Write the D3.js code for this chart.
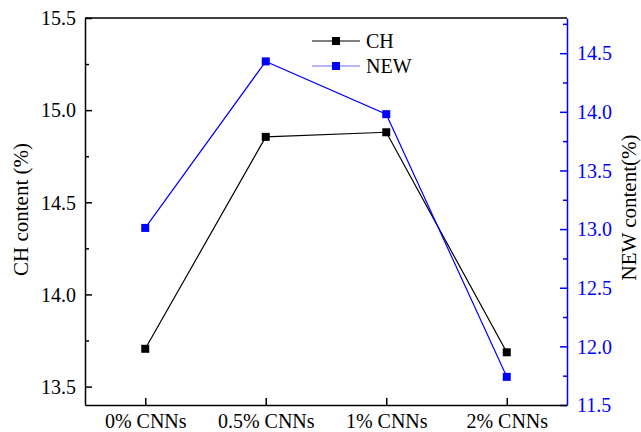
<!DOCTYPE html>
<html><head><meta charset="utf-8">
<script src="https://cdn.jsdelivr.net/npm/d3@7"></script>
<style>body{margin:0;background:#fff}svg{display:block}text{font-family:"Liberation Serif","Times New Roman",serif}</style>
</head><body>
<svg id="c" width="641" height="432"></svg>
<script>
const categories = ["0% CNNs", "0.5% CNNs", "1% CNNs", "2% CNNs"];
const chValues = [13.705, 14.855, 14.88, 13.686];
const newValues = [13.01, 14.43, 13.98, 11.74];
const leftTicks = [13.5, 14.0, 14.5, 15.0, 15.5];
const rightTicks = [11.5, 12.0, 12.5, 13.0, 13.5, 14.0, 14.5];
const leftMinor = [13.75, 14.25, 14.75, 15.25];
const rightMinor = [11.75, 12.25, 12.75, 13.25, 13.75, 14.25, 14.75];

const W = 641, H = 432;
const m = {l: 85, r: 567, t: 18, b: 405};
const svg = d3.select("#c");
const blue = "#0000ff";

const x = d3.scalePoint().domain(categories).range([m.l, m.r]).padding(0.5);
const yL = d3.scaleLinear().domain([13.4, 15.5]).range([m.b, m.t]);
const yR = d3.scaleLinear().domain([11.5, 14.8]).range([m.b, m.t]);

// top frame
svg.append("line").attr("x1", m.l).attr("x2", m.r).attr("y1", m.t).attr("y2", m.t)
  .attr("stroke", "#000").attr("stroke-width", 1.5);

function styleAxis(g, color) {
  g.select(".domain").attr("stroke", color).attr("stroke-width", 1.5);
  g.selectAll(".tick line").attr("stroke", color).attr("stroke-width", 1.5);
  g.selectAll(".tick text").attr("fill", color).attr("font-size", 20);
}

// left axis
const gL = svg.append("g").attr("transform", `translate(${m.l},0)`)
  .call(d3.axisLeft(yL).tickValues(leftTicks).tickFormat(d3.format(".1f")).tickSizeInner(-7).tickSizeOuter(0).tickPadding(9));
styleAxis(gL, "#000");
gL.selectAll(".tick text").attr("dy", "0.34em");
svg.append("g").attr("transform", `translate(${m.l},0)`)
  .call(d3.axisLeft(yL).tickValues(leftMinor).tickFormat("").tickSizeInner(-4).tickSizeOuter(0))
  .call(g => { g.select(".domain").remove(); g.selectAll("line").attr("stroke", "#000").attr("stroke-width", 1.5); });

// right axis
const gR = svg.append("g").attr("transform", `translate(${m.r},0)`)
  .call(d3.axisRight(yR).tickValues(rightTicks).tickFormat(d3.format(".1f")).tickSizeInner(-7).tickSizeOuter(0).tickPadding(10));
styleAxis(gR, blue);
gR.selectAll(".tick text").attr("dy", "0.34em");
svg.append("g").attr("transform", `translate(${m.r},0)`)
  .call(d3.axisRight(yR).tickValues(rightMinor).tickFormat("").tickSizeInner(-4).tickSizeOuter(0))
  .call(g => { g.select(".domain").remove(); g.selectAll("line").attr("stroke", blue).attr("stroke-width", 1.5); });

// bottom axis
const gB = svg.append("g").attr("transform", `translate(0,${m.b})`)
  .call(d3.axisBottom(x).tickSizeInner(-7).tickSizeOuter(0).tickPadding(9));
styleAxis(gB, "#000");
gB.selectAll(".tick text").attr("dy", "0.71em");

// axis titles
svg.append("text").attr("transform", `translate(28,${(m.t + m.b) / 2 - 2}) rotate(-90)`)
  .attr("text-anchor", "middle").attr("font-size", 21).attr("fill", "#000").text("CH content (%)");
svg.append("text").attr("transform", `translate(636,${(m.t + m.b) / 2 - 4}) rotate(-90)`)
  .attr("text-anchor", "middle").attr("font-size", 21).attr("fill", "#000").text("NEW content(%)");

// series
const series = [
  {name: "CH", values: chValues, y: yL, color: "#000", legendLine: "#000"},
  {name: "NEW", values: newValues, y: yR, color: blue, legendLine: "#6b6bff"}
];
const ms = 8;
series.forEach(s => {
  const pts = categories.map((c, i) => [x(c), s.y(s.values[i])]);
  svg.append("path").attr("d", d3.line()(pts)).attr("fill", "none")
    .attr("stroke", s.color).attr("stroke-width", 1.2);
  svg.append("g").selectAll("rect").data(pts).join("rect")
    .attr("x", d => d[0] - ms / 2).attr("y", d => d[1] - ms / 2)
    .attr("width", ms).attr("height", ms).attr("fill", s.color);
});

// legend
const lg = svg.append("g");
series.forEach((s, i) => {
  const cy = 41 + i * 25;
  lg.append("line").attr("x1", 312).attr("x2", 360).attr("y1", cy).attr("y2", cy)
    .attr("stroke", s.legendLine).attr("stroke-width", 1.2);
  lg.append("rect").attr("x", 336 - ms / 2).attr("y", cy - ms / 2).attr("width", ms).attr("height", ms).attr("fill", s.color);
  lg.append("text").attr("x", 366).attr("y", cy).attr("dy", "0.34em").attr("font-size", 20).attr("fill", "#000").text(s.name);
});
</script>
</body></html>
